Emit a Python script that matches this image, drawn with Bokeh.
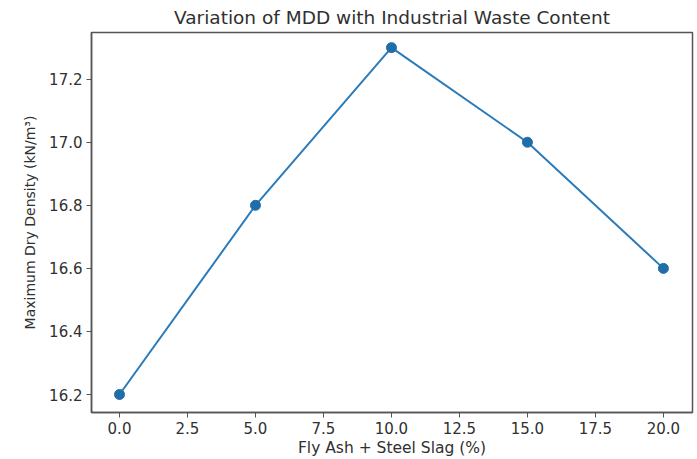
from bokeh.plotting import figure
from bokeh.models import FixedTicker, NumeralTickFormatter, Range1d
from bokeh.embed import file_html
from bokeh.resources import INLINE

waste_pct = [0, 5, 10, 15, 20]
mdd = [16.2, 16.8, 17.3, 17.0, 16.6]
x_ticks = [0, 2.5, 5, 7.5, 10, 12.5, 15, 17.5, 20]
y_ticks = [16.2, 16.4, 16.6, 16.8, 17.0, 17.2]

FONT = "DejaVu Sans"
TXT = "#303030"

p = figure(width=697, height=459, output_backend="svg", toolbar_location=None,
           title="Variation of MDD with Industrial Waste Content",
           x_range=Range1d(-1.03, 21.07), y_range=Range1d(16.143, 17.348),
           min_border_left=91, min_border_right=5, min_border_top=32, min_border_bottom=47)

p.title.align = "center"
p.title.text_font = FONT
p.title.text_font_size = "18.5px"
p.title.text_font_style = "normal"
p.title.text_color = TXT
p.title.offset = 0
p.title.standoff = 9

p.line(waste_pct, mdd, line_color="#2b7bba", line_width=2)
p.scatter(waste_pct, mdd, size=10, fill_color="#1f6ea8", line_color="#1f6ea8")

p.grid.visible = False
p.outline_line_color = "#555555"
p.outline_line_width = 1.5
p.background_fill_color = "white"
p.border_fill_color = "white"

p.xaxis.ticker = FixedTicker(ticks=x_ticks)
p.yaxis.ticker = FixedTicker(ticks=y_ticks)
p.xaxis.formatter = NumeralTickFormatter(format="0.0")
p.yaxis.formatter = NumeralTickFormatter(format="0.0")
p.xaxis.axis_label = "Fly Ash + Steel Slag (%)"
p.yaxis.axis_label = "Maximum Dry Density (kN/m³)"

for ax in (p.xaxis[0], p.yaxis[0]):
    ax.axis_label_text_font = FONT
    ax.axis_label_text_font_style = "normal"
    ax.axis_label_text_color = TXT
    ax.major_label_text_font = FONT
    ax.major_label_text_font_size = "15px"
    ax.major_label_text_color = TXT
    ax.major_tick_in = 0
    ax.major_tick_out = 5
    ax.minor_tick_in = 0
    ax.minor_tick_out = 0
    ax.axis_line_color = "#555555"
    ax.axis_line_width = 1.5
    ax.major_tick_line_color = "#555555"
    ax.major_label_standoff = 4

p.xaxis[0].axis_label_text_font_size = "15.5px"
p.xaxis[0].axis_label_standoff = 2
p.yaxis[0].axis_label_text_font_size = "14px"
p.yaxis[0].axis_label_standoff = 8

open("out.html", "w").write(file_html(p, INLINE))
